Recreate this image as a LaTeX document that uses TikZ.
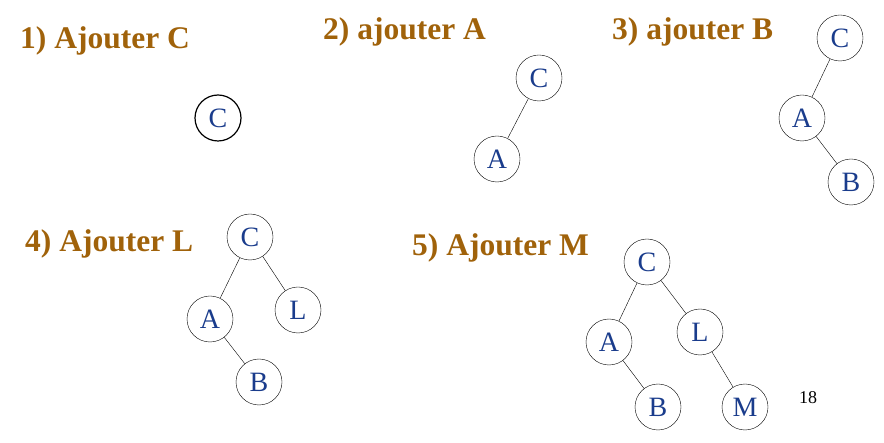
\documentclass[tikz,border=0pt]{standalone}
\usepackage{fontspec}
\setmainfont{Liberation Serif}
\definecolor{ttl}{HTML}{A0620A}
\definecolor{lt}{HTML}{1A3C8C}
\begin{document}
\begin{tikzpicture}[x=1pt,y=-1pt,
  nd/.style={circle,draw,fill=white,minimum size=46pt,inner sep=0pt,font=\fontsize{28}{28}\selectfont,text=lt},
  ttlst/.style={anchor=west,font=\fontsize{31.5}{31.5}\selectfont\bfseries,text=ttl,inner sep=0pt}]
\useasboundingbox (0,0) rectangle (884,443);
\node[ttlst] (t1) at (20,41) {1) Ajouter C};
\node[ttlst] (t2) at (323,32) {2) ajouter A};
\node[ttlst] (t3) at (612,32) {3) ajouter B};
\node[ttlst] (t4) at (25,244) {4) Ajouter L};
\node[ttlst] (t5) at (412,248) {5) Ajouter M};
\node[nd,line width=1.2pt] (c1) at (218,118) {C};
\node[nd] (c2) at (539,78) {C};
\node[nd] (a2) at (497,159) {A};
\draw (c2) -- (a2);
\node[nd] (c3) at (840,38) {C};
\node[nd] (a3) at (802,118) {A};
\node[nd] (b3) at (851,182) {B};
\draw (c3) -- (a3); \draw (a3) -- (b3);
\node[nd] (c4) at (250,237) {C};
\node[nd] (a4) at (210,319) {A};
\node[nd] (l4) at (298,310) {L};
\node[nd] (b4) at (259,382) {B};
\draw (c4) -- (a4); \draw (c4) -- (l4); \draw (a4) -- (b4);
\node[nd] (c5) at (647,262) {C};
\node[nd] (a5) at (609,342) {A};
\node[nd] (l5) at (700,332) {L};
\node[nd] (b5) at (658,407) {B};
\node[nd] (m5) at (745,407) {M};
\draw (c5) -- (a5); \draw (c5) -- (l5); \draw (a5) -- (b5); \draw (l5) -- (m5);
\node[font=\fontsize{18}{18}\selectfont] (pg) at (808,398) {18};
\end{tikzpicture}
\end{document}
